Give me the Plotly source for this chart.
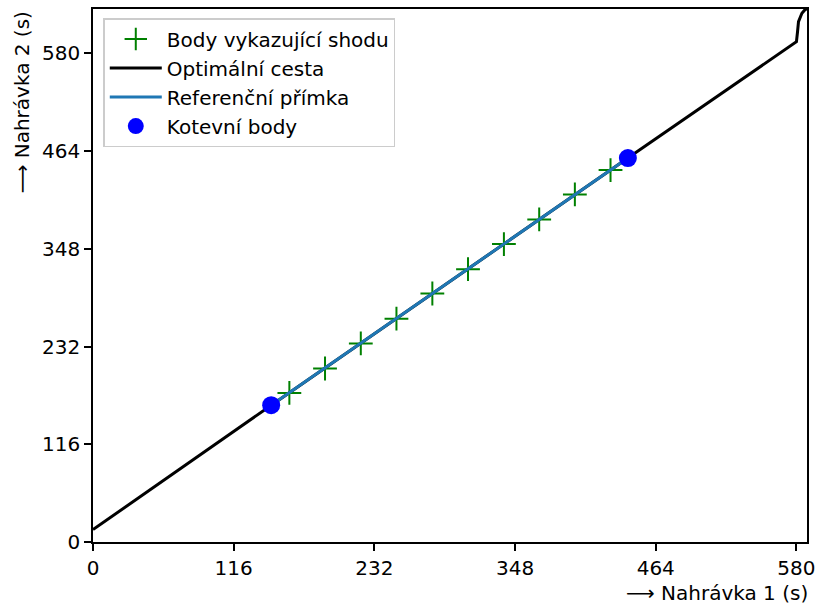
import plotly.graph_objects as go

# Matching points (time in recording 1, time in recording 2), seconds
match_x = [161.9, 191.3, 220.8, 250.2, 279.8, 309.2, 338.8, 367.9, 397.3, 426.7]
match_y = [176.9, 205.9, 235.6, 265.0, 294.9, 323.8, 353.5, 382.8, 412.5, 441.3]

# Optimal warping path
path_x = [0.0, 147.0, 441.0, 580.0, 580.9, 581.7, 584.5, 587.2, 588.7]
path_y = [14.7, 162.3, 455.6, 593.6, 605.5, 617.4, 627.4, 632.0, 632.5]

# Anchor points; the reference line joins them
anchor_x = [146.9, 441.0]
anchor_y = [162.3, 455.6]

tick_vals = [0, 116, 232, 348, 464, 580]
x_max = 588.7
y_max = 632.5

FONT = "DejaVu Sans"
FS = 20

fig = go.Figure()

fig.add_trace(go.Scatter(
    x=path_x, y=path_y, mode="lines", name="Optimální cesta",
    line=dict(color="black", width=3), legendrank=2, legendgroup="b",
))
fig.add_trace(go.Scatter(
    x=match_x, y=match_y, mode="markers", name="Body vykazující shodu",
    marker=dict(symbol="cross-thin", size=17, color="#008000",
                line=dict(color="#008000", width=2)),
    legendrank=1, legendgroup="a",
))
fig.add_trace(go.Scatter(
    x=anchor_x, y=anchor_y, mode="lines", name="Referenční přímka",
    line=dict(color="#1f77b4", width=3), legendrank=3, legendgroup="c",
))
fig.add_trace(go.Scatter(
    x=anchor_x, y=anchor_y, mode="markers", name="Kotevní body",
    marker=dict(symbol="circle", size=18, color="#0000ff"),
    legendrank=4, legendgroup="d",
))

axis_common = dict(
    tickvals=tick_vals, ticks="outside", ticklen=7, tickwidth=1.6,
    tickcolor="black", showline=True, linecolor="black", linewidth=1.6,
    mirror=True, showgrid=False, zeroline=False, automargin=False,
    tickfont=dict(family=FONT, size=FS, color="black"),
)

fig.update_layout(
    width=818, height=604,
    margin=dict(l=93, r=11, t=9, b=62),
    paper_bgcolor="white", plot_bgcolor="white",
    font=dict(family=FONT, size=FS, color="black"),
    xaxis=dict(range=[0, x_max], **axis_common),
    yaxis=dict(range=[0, y_max], **axis_common),
    showlegend=True,
    legend=dict(
        x=0.0144, y=0.983, xanchor="left", yanchor="top",
        bgcolor="rgba(255,255,255,0.8)", bordercolor="#cccccc", borderwidth=1.5,
        font=dict(family=FONT, size=FS, color="black"),
        tracegroupgap=4, traceorder="normal", itemwidth=52,
    ),
    annotations=[
        dict(text="⟶ Nahrávka 1 (s)", xref="paper", yref="paper",
             x=1, y=-0.095, xanchor="right", yanchor="middle", xshift=3,
             showarrow=False, font=dict(family=FONT, size=FS, color="black")),
        dict(text="⟶ Nahrávka 2 (s)", xref="paper", yref="paper",
             x=-0.099, y=1, xanchor="center", yanchor="top", textangle=-90,
             showarrow=False, font=dict(family=FONT, size=FS, color="black")),
    ],
)

fig.write_html("out.html")
